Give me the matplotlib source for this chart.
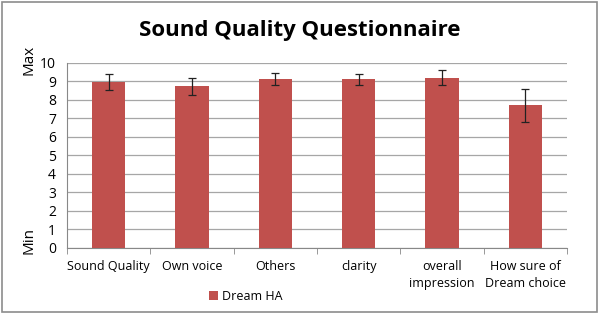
import matplotlib.pyplot as plt
from matplotlib.patches import Rectangle

# data
categories = ['Sound Quality', 'Own voice', 'Others', 'clarity',
              'overall\nimpression', 'How sure of\nDream choice']
means = [8.97, 8.74, 9.12, 9.12, 9.21, 7.71]
errors = [0.44, 0.46, 0.33, 0.30, 0.42, 0.90]
yticks = list(range(0, 11))

plt.rcParams['font.family'] = ['Open Sans', 'DejaVu Sans']

fig = plt.figure(figsize=(6, 3.15), dpi=100)
ax = fig.add_axes([0.1117, 0.2127, 0.8333, 0.5873])

x = list(range(len(categories)))
ax.bar(x, means, width=0.4, color='#C0504D', yerr=errors,
       error_kw=dict(ecolor='#222222', elinewidth=0.9, capsize=3, capthick=0.9),
       label='Dream HA', zorder=3)

ax.set_xlim(-0.5, len(categories) - 0.5)
ax.set_ylim(0, 10)
ax.set_yticks(yticks)
ax.yaxis.grid(True, color='#a6a6a6', linewidth=0.9, zorder=0)
ax.tick_params(axis='y', length=0, labelsize=10, pad=8)
ax.set_xticks(x)
ax.set_xticklabels(categories, fontsize=9, linespacing=1.4)
ax.tick_params(axis='x', length=0, pad=9)
# category boundary ticks
ax.set_xticks([i - 0.5 for i in range(len(categories) + 1)], minor=True)
ax.tick_params(axis='x', which='minor', length=4, color='#888888', direction='out')

for s in ['top', 'right']:
    ax.spines[s].set_visible(False)
ax.spines['left'].set_color('#888888')
ax.spines['bottom'].set_color('#888888')

fig.text(0.048, 0.81, 'Max', rotation=90, ha='center', va='center', fontsize=11)
fig.text(0.048, 0.235, 'Min', rotation=90, ha='center', va='center', fontsize=11)

fig.suptitle('Sound Quality Questionnaire', x=0.5, y=0.935, fontsize=16, fontweight='bold')

fig.legend(loc='center', bbox_to_anchor=(0.41, 0.06), frameon=False, fontsize=9,
           handlelength=0.7, handleheight=0.7, handletextpad=0.3)

fig.patches.append(Rectangle((0.004, 0.008), 0.991, 0.985, transform=fig.transFigure,
                             fill=False, edgecolor='#8c8c8c', linewidth=1.2))

fig.savefig('out.png', dpi=100)
